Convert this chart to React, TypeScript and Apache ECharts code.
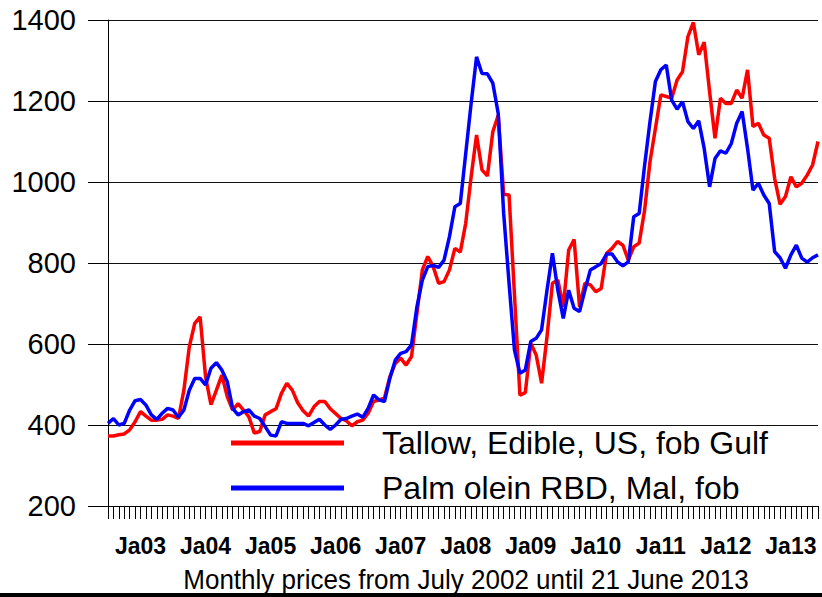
import React, { useEffect, useRef } from "react";
import * as echarts from "echarts";

// Monthly categories: July 2002 .. June 2013
const START_YEAR = 2002;
const START_MONTH = 7;
const MONTH_COUNT = 132;
const months: string[] = Array.from({ length: MONTH_COUNT }, (_, i) => {
  const m = START_MONTH - 1 + i;
  const y = START_YEAR + Math.floor(m / 12);
  const mm = (m % 12) + 1;
  return `${y}-${String(mm).padStart(2, "0")}`;
});

const seriesNames = ["Tallow, Edible, US, fob Gulf", "Palm olein RBD, Mal, fob"];
const seriesColors = ["#ff0000", "#0000ff"];

const tallow = [
  373, 373, 376, 378, 388, 408, 433, 422, 412, 412,
  414, 425, 422, 416, 486, 593, 651, 667, 519, 450,
  486, 523, 470, 437, 453, 437, 420, 380, 384, 425,
  433, 440, 478, 503, 486, 455, 435, 422, 445, 458,
  458, 440, 428, 416, 410, 398, 408, 412, 429, 458,
  462, 466, 519, 552, 565, 548, 569, 676, 783, 816,
  791, 750, 754, 783, 836, 827, 898, 1013, 1116, 1030,
  1015, 1124, 1165, 970, 968, 720, 474, 480, 602, 573,
  503, 618, 750, 758, 692, 832, 858, 692, 750, 746,
  729, 737, 824, 836, 853, 844, 807, 840, 849, 930,
  1050, 1132, 1215, 1211, 1207, 1252, 1272, 1359, 1394, 1314,
  1345, 1223, 1108, 1207, 1194, 1194, 1227, 1207, 1277, 1137,
  1145, 1116, 1108, 1009, 945, 964, 1013, 988, 997, 1017,
  1042, 1100,
];

const palmOlein = [
  404, 416, 400, 404, 437, 460, 463, 449, 425, 414,
  429, 441, 437, 419, 437, 486, 515, 515, 499, 540,
  554, 536, 507, 441, 425, 433, 437, 422, 416, 396,
  375, 373, 408, 404, 404, 404, 404, 398, 406, 414,
  400, 389, 400, 414, 416, 422, 427, 419, 441, 474,
  462, 458, 515, 560, 577, 581, 598, 692, 758, 791,
  794, 789, 807, 865, 939, 947, 1070, 1194, 1309, 1268,
  1267, 1244, 1169, 923, 750, 585, 528, 536, 606, 614,
  635, 733, 824, 733, 663, 733, 688, 680, 733, 783,
  791, 799, 822, 822, 803, 793, 803, 914, 922, 1040,
  1149, 1248, 1277, 1289, 1202, 1180, 1198, 1149, 1132, 1151,
  1083, 988, 1058, 1077, 1071, 1095, 1145, 1174, 1083, 980,
  997, 968, 947, 828, 813, 787, 820, 844, 812, 802,
  813, 820,
];

const Y_MIN = 200;
const Y_MAX = 1400;
const Y_STEP = 200;

const titleText = "Monthly prices from July 2002 until 21 June 2013";

const SANS = "'Liberation Sans', Arial, sans-serif";

export default function App() {
  const ref = useRef<HTMLDivElement>(null);

  useEffect(() => {
    if (!ref.current) return;
    const chart = echarts.init(ref.current, undefined, { renderer: "svg" });
    chart.setOption({
      animation: false,
      backgroundColor: "#ffffff",
      graphic: [
        {
          type: "text",
          x: 466,
          y: 566,
          scaleX: 0.93,
          style: {
            text: titleText,
            fontFamily: SANS,
            fontSize: 28,
            fill: "#000",
            align: "center",
            verticalAlign: "top",
          },
        },
        {
          type: "rect",
          shape: { x: 0, y: 593, width: 822, height: 4 },
          style: { fill: "#000" },
          silent: true,
        },
      ],
      legend: {
        orient: "vertical",
        left: 226,
        top: 422,
        icon: "rect",
        itemWidth: 113,
        itemHeight: 5,
        itemGap: 13,
        data: seriesNames,
        textStyle: {
          fontFamily: SANS,
          fontSize: 32,
          color: "#000",
          padding: [0, 0, 0, 33],
        },
      },
      grid: { left: 108, right: 4, top: 20, bottom: 91 },
      xAxis: {
        type: "category",
        data: months,
        boundaryGap: false,
        axisLine: { lineStyle: { color: "#000", width: 1 } },
        axisTick: { show: true, interval: 0, length: 13, lineStyle: { color: "#000", width: 1 } },
        axisLabel: {
          interval: (idx: number) => months[idx].endsWith("-01"),
          formatter: (v: string) => "Ja" + v.slice(2, 4),
          fontFamily: SANS,
          fontWeight: "bold",
          fontSize: 23,
          color: "#000",
          margin: 28,
        },
        splitLine: { show: false },
      },
      yAxis: {
        type: "value",
        min: Y_MIN,
        max: Y_MAX,
        interval: Y_STEP,
        axisLine: { show: true, lineStyle: { color: "#000", width: 1 } },
        axisTick: { show: true, length: 20, lineStyle: { color: "#000", width: 1 } },
        axisLabel: {
          fontFamily: SANS,
          fontSize: 29,
          color: "#000",
          margin: 32,
          formatter: (v: number) => String(v),
        },
        splitLine: { show: true, lineStyle: { color: "#111", width: 1 } },
      },
      series: [
        {
          name: seriesNames[0],
          type: "line",
          data: tallow,
          symbol: "none",
          lineStyle: { color: seriesColors[0], width: 3.5 },
          itemStyle: { color: seriesColors[0] },
        },
        {
          name: seriesNames[1],
          type: "line",
          data: palmOlein,
          symbol: "none",
          lineStyle: { color: seriesColors[1], width: 3.5 },
          itemStyle: { color: seriesColors[1] },
        },
      ],
    });
    return () => chart.dispose();
  }, []);

  return (
    <div
      ref={ref}
      style={{ position: "fixed", left: 0, top: 0, width: 822, height: 597, background: "#fff" }}
    />
  );
}
